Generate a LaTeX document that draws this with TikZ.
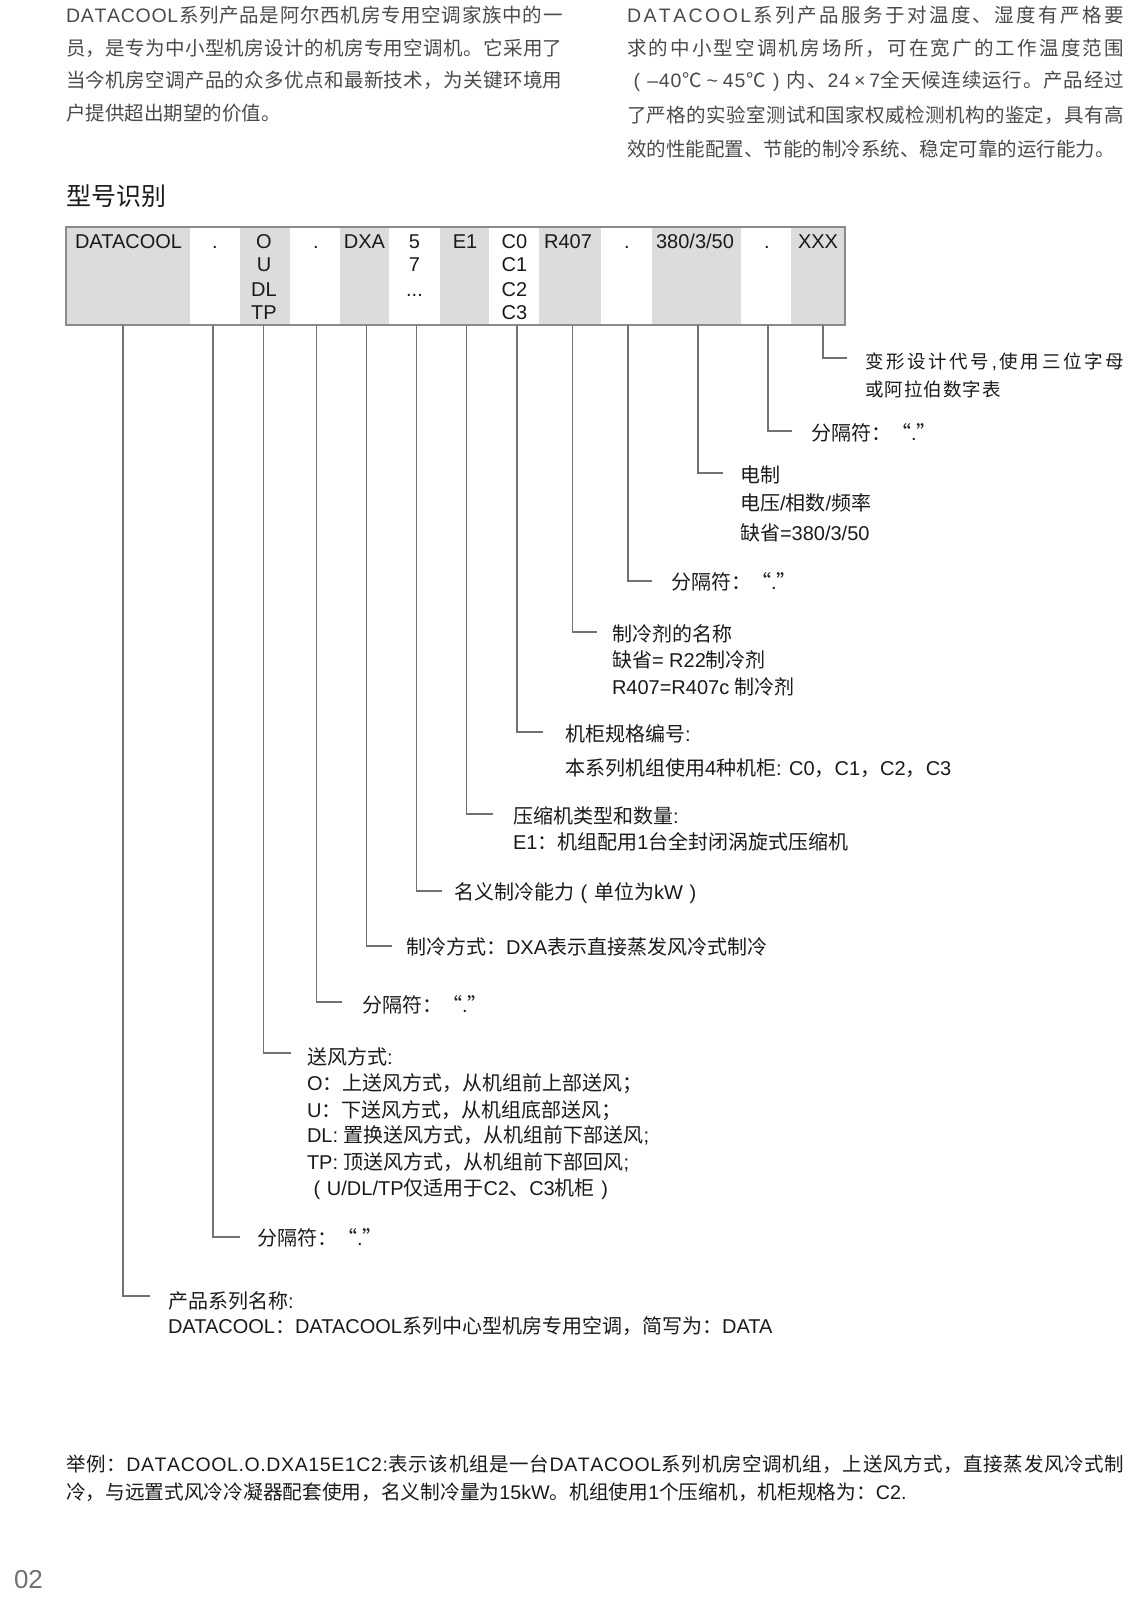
\documentclass[tikz,border=0pt]{standalone}
\usepackage{fontspec}
\setmainfont{Liberation Sans}
\newfontfamily\cjkfont{Noto Sans CJK SC}
% automatic switch to the CJK font for CJK characters
\XeTeXinterchartokenstate=1
\newXeTeXintercharclass\cjkcls
\newcount\mycnt
\mycnt=0
\loop \XeTeXcharclass\mycnt=0 \advance\mycnt by 1 \ifnum\mycnt<"10000 \repeat
\def\setcjkrange#1#2{\mycnt=#1 \loop \XeTeXcharclass\mycnt=\cjkcls \advance\mycnt by 1 \ifnum\mycnt<#2 \repeat}
\setcjkrange{"2E80}{"A000}
\setcjkrange{"FF00}{"FFF0}
\XeTeXcharclass"201C=\cjkcls
\XeTeXcharclass"201D=\cjkcls
\XeTeXcharclass"2103=\cjkcls
\XeTeXinterchartoks 0 \cjkcls = {\begingroup\cjkfont}
\XeTeXinterchartoks 4095 \cjkcls = {\begingroup\cjkfont}
\XeTeXinterchartoks \cjkcls 0 = {\endgroup}
\XeTeXinterchartoks \cjkcls 4095 = {\endgroup}
% justified line: spread characters evenly over a given width
\def\spreadA#1{\ifx#1\relax\else#1\hfil\expandafter\spreadA\fi}
\newcommand\jline[2]{\hbox to #1{\spreadA#2\relax\unskip}}
% centred full-width brackets, tilde and times sign
\def\lpar{\makebox[1em]{(}}
\def\rpar{\makebox[1em]{)}}
\def\tld{\makebox[1em]{\textasciitilde}}
\def\tms{\makebox[0.9em]{×}}
\definecolor{cellgray}{HTML}{DCDCDC}
\definecolor{linegray}{HTML}{727272}
\definecolor{bordergray}{HTML}{8A8A8A}
\definecolor{ink}{HTML}{1A1A1A}
\definecolor{paratext}{HTML}{4A4A4A}
\definecolor{pagenum}{HTML}{707070}
\begin{document}
\begin{tikzpicture}[x=1pt,y=-1pt,
  every node/.style={inner sep=0pt, outer sep=0pt},
  para/.style={anchor=base west, font=\fontsize{19.5}{24}\selectfont, text=paratext},
  lbl/.style={anchor=base west, font=\fontsize{20}{24}\selectfont, text=ink},
  lblw/.style={anchor=base west, font=\fontsize{18.5}{24}\selectfont, text=ink},
  cell/.style={anchor=base, font=\fontsize{20}{24}\selectfont, text=ink},
  conn/.style={draw=linegray, line width=1.6pt},
  tblbox/.style={draw=bordergray, line width=2pt, anchor=north west}]
\useasboundingbox (0,0) rectangle (1130,1600);

% ---------------- top paragraphs ----------------
\node[para] (pl1) at (66,22.7)   {\jline{496.5pt}{DATACOOL系列产品是阿尔西机房专用空调家族中的一}};
\node[para] (pl2) at (66,55.4)   {\jline{496.5pt}{员，是专为中小型机房设计的机房专用空调机。它采用了}};
\node[para] (pl3) at (66,88)     {\jline{496.5pt}{当今机房空调产品的众多优点和最新技术，为关键环境用}};
\node[para] (pl4) at (66,120.7)  {户提供超出期望的价值。};

\node[para] (pr1) at (627,22.7)  {\jline{497pt}{DATACOOL系列产品服务于对温度、湿度有严格要}};
\node[para] (pr2) at (627,55.4)  {\jline{497pt}{求的中小型空调机房场所，可在宽广的工作温度范围}};
\node[para] (pr3) at (627,88)    {\jline{497pt}{\lpar–40℃\tld45℃\rpar 内、24\tms7全天候连续运行。产品经过}};
\node[para] (pr4) at (627,122.7) {\jline{497pt}{了严格的实验室测试和国家权威检测机构的鉴定，具有高}};
\node[para] (pr5) at (627,156.4) {效的性能配置、节能的制冷系统、稳定可靠的运行能力。};

% ---------------- title ----------------
\node[anchor=base west, font=\fontsize{25}{30}\selectfont, text=ink] (title) at (66,205.5) {型号识别};

% ---------------- code table ----------------
\foreach \a/\b in {66/190, 240/290, 340/389, 440/489, 539/601, 652/741, 791/845}
  \fill[cellgray] (\a,227) rectangle (\b,325);
\node[tblbox, minimum width=779pt, minimum height=98pt] (tbl) at (66,227) {};

\node[cell, anchor=base west] (cDATA) at (75,248) {DATACOOL};
\node[cell] (cdot1) at (215,248) {.};
\node[cell] (cO)  at (264,248)   {O};
\node[cell] (cU)  at (264,271.5) {U};
\node[cell] (cDL) at (264,296)   {DL};
\node[cell] (cTP) at (264,319.5) {TP};
\node[cell] (cdot2) at (316,248) {.};
\node[cell] (cDXA) at (364.5,248) {DXA};
\node[cell] (c5) at (414.5,248)   {5};
\node[cell] (c7) at (414.5,271.5) {7};
\node[cell] (cel) at (414.5,296)  {...};
\node[cell] (cE1) at (465,248) {E1};
\node[cell] (cC0) at (514.5,248)   {C0};
\node[cell] (cC1) at (514.5,271.5) {C1};
\node[cell] (cC2) at (514.5,296)   {C2};
\node[cell] (cC3) at (514.5,319.5) {C3};
\node[cell] (cR) at (568,248) {R407};
\node[cell] (cdot3) at (627,248) {.};
\node[cell] (cV) at (695,248) {380/3/50};
\node[cell] (cdot4) at (767,248) {.};
\node[cell] (cX) at (818,248) {XXX};

% ---------------- connectors ----------------
\foreach \n/\x/\y/\e in {1/823/358/847, 2/768/431/792, 3/698/473/723, 4/628/581/652,
    5/572.5/632/597, 6/517/732/543, 7/466.5/814/493, 8/416.5/891/442,
    9/366.5/946/392, 10/316.5/1002/342, 11/263.5/1053/291, 12/213/1237/240,
    13/123/1296/150} {
  \coordinate (t\n) at (\x,325);
  \coordinate (k\n) at (\e,\y);
  \draw[conn] (t\n) |- (k\n);
}

% ---------------- labels ----------------
\node[lblw] (l1a) at (865,368)   {\jline{259pt}{变形设计代号,使用三位字母}};
\node[lblw] (l1b) at (865,396)   {\jline{136pt}{或阿拉伯数字表}};
\node[lbl] (l2)  at (811,440.6)  {分隔符：“.”};
\node[lbl] (l3a) at (740,482.6)  {电制};
\node[lbl] (l3b) at (740,510.6)  {电压/相数/频率};
\node[lbl] (l3c) at (740,540.6)  {缺省=380/3/50};
\node[lbl] (l4)  at (671,589.6)  {分隔符：“.”};
\node[lbl] (l5a) at (612,641.6)  {制冷剂的名称};
\node[lbl] (l5b) at (612,667.6)  {缺省= R22制冷剂};
\node[lbl] (l5c) at (612,694.6)  {R407=R407c 制冷剂};
\node[lbl] (l6a) at (565,741.6)  {机柜规格编号:};
\node[lbl] (l6b) at (565,775.6)  {本系列机组使用4种机柜: C0，C1，C2，C3};
\node[lbl] (l7a) at (513,823.6)  {压缩机类型和数量:};
\node[lbl] (l7b) at (513,849.6)  {E1：机组配用1台全封闭涡旋式压缩机};
\node[lbl] (l8)  at (454,899.6)  {名义制冷能力\lpar 单位为kW\rpar};
\node[lbl] (l9)  at (406,954.6)  {制冷方式：DXA表示直接蒸发风冷式制冷};
\node[lbl] (l10) at (362,1012)   {分隔符：“.”};
\node[lbl] (l11a) at (307,1064)   {送风方式:};
\node[lbl] (l11b) at (307,1090.6) {O：上送风方式，从机组前上部送风；};
\node[lbl] (l11c) at (307,1117)   {U：下送风方式，从机组底部送风；};
\node[lbl] (l11d) at (307,1142.6) {DL: 置换送风方式，从机组前下部送风;};
\node[lbl] (l11e) at (307,1169.3) {TP: 顶送风方式，从机组前下部回风;};
\node[lbl] (l11f) at (307,1195.6) {\lpar U/DL/TP仅适用于C2、C3机柜\rpar};
\node[lbl] (l12) at (257,1245.6) {分隔符：“.”};
\node[lbl] (l13a) at (168,1308)   {产品系列名称:};
\node[lbl] (l13b) at (168,1333.6) {DATACOOL：DATACOOL系列中心型机房专用空调，简写为：DATA};

% ---------------- example ----------------
\node[lbl, font=\fontsize{19.5}{24}\selectfont] (ex1) at (66,1471.4) {\jline{1058pt}{举例：DATACOOL.O.DXA15E1C2:表示该机组是一台DATACOOL系列机房空调机组，上送风方式，直接蒸发风冷式制}};
\node[lbl, font=\fontsize{19.7}{24}\selectfont] (ex2) at (66,1499) {冷，与远置式风冷冷凝器配套使用，名义制冷量为15kW。机组使用1个压缩机，机柜规格为：C2.};

% ---------------- page number ----------------
\node[anchor=base west, font=\fontsize{26}{30}\selectfont, text=pagenum] (pg) at (14,1588) {02};
\end{tikzpicture}
\end{document}
